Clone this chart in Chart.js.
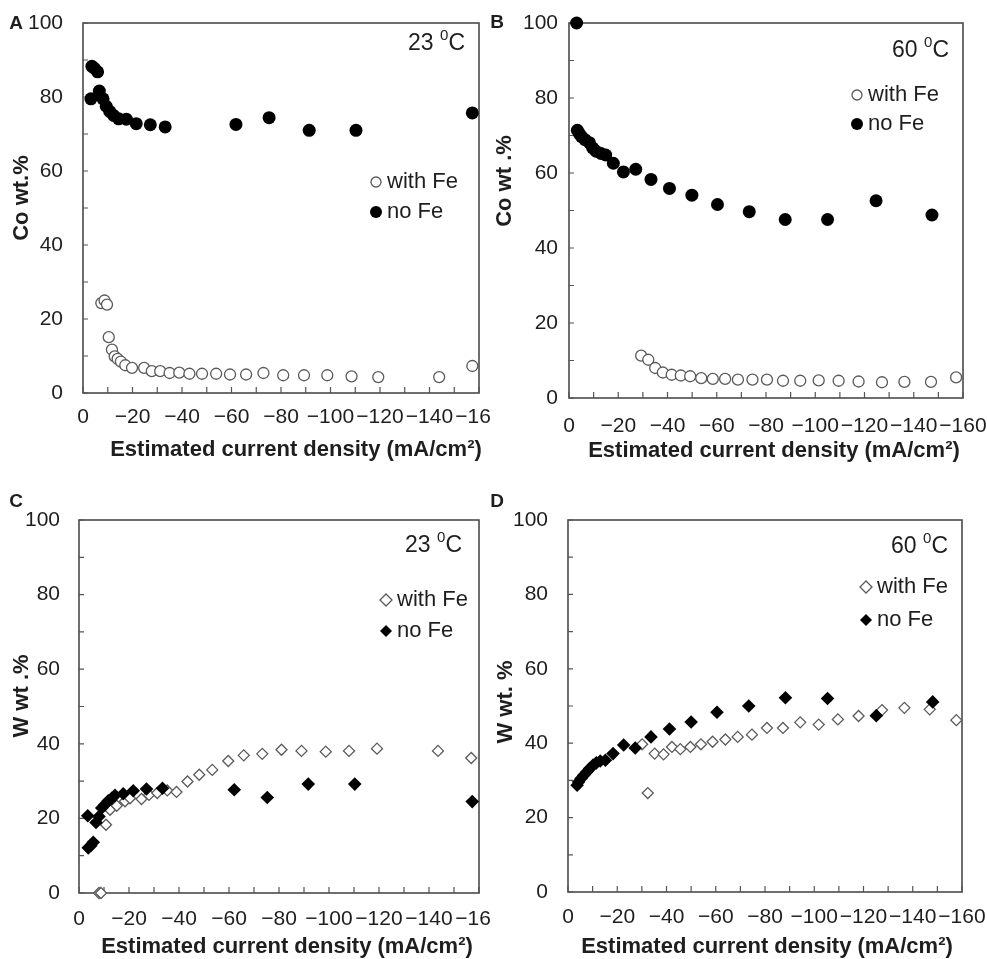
<!DOCTYPE html>
<html>
<head>
<meta charset="utf-8">
<title>Co and W content vs current density</title>
<script src="https://cdn.jsdelivr.net/npm/chart.js@4.4.1/dist/chart.umd.min.js"></script>
<style>
  body { margin: 0; background: #fff; }
  #page { position: relative; width: 987px; height: 959px; overflow: hidden; background: #fff; }
  #page canvas { position: absolute; }
</style>
</head>
<body>
<div id="page"></div>
<script>
// Co wt.% at 23 C
const coNoFe23X = [-3.2, -3.6, -4.7, -5.9, -6.6, -8.1, -9.4, -10.8, -12.4, -14.4, -17.5, -21.5, -27.2, -33.2, -61.8, -75.2, -91.4, -110.3, -157.3];
const coNoFe23Y = [79.5, 88.3, 87.7, 86.8, 81.6, 79.5, 77.5, 76.1, 75.0, 74.1, 74.0, 72.8, 72.5, 71.9, 72.6, 74.4, 71.0, 71.0, 75.7];
const coFe23X = [-7.4, -8.7, -9.7, -10.4, -11.7, -12.8, -14.0, -15.3, -17.1, -19.8, -24.7, -27.8, -31.2, -35.0, -38.9, -43.0, -48.1, -53.8, -59.4, -65.9, -72.9, -80.9, -89.3, -98.7, -108.5, -119.3, -143.9, -157.3];
const coFe23Y = [24.3, 25.0, 23.9, 15.1, 11.7, 9.9, 9.2, 8.5, 7.5, 6.8, 6.8, 5.9, 5.9, 5.4, 5.5, 5.2, 5.2, 5.2, 5.0, 5.0, 5.4, 4.8, 4.8, 4.8, 4.5, 4.3, 4.3, 7.3];

// Co wt.% at 60 C
const coNoFe60X = [-3.1, -3.4, -4.2, -5.1, -6.5, -8.3, -9.6, -11.0, -13.0, -14.9, -18.0, -22.1, -27.1, -33.3, -40.8, -49.9, -60.3, -73.2, -87.8, -105.0, -124.7, -147.4];
const coNoFe60Y = [100, 71.4, 70.5, 69.7, 68.9, 68.1, 66.7, 65.8, 65.2, 64.8, 62.6, 60.3, 61.0, 58.3, 55.9, 54.1, 51.6, 49.7, 47.6, 47.6, 52.6, 48.8];
const coFe60X = [-29.3, -32.2, -35.0, -38.1, -41.7, -45.4, -49.2, -53.7, -58.4, -63.4, -68.6, -74.5, -80.4, -86.9, -93.9, -101.4, -109.5, -117.6, -127.1, -136.2, -147.0, -157.2];
const coFe60Y = [11.3, 10.2, 8.0, 6.8, 6.2, 6.0, 5.8, 5.3, 5.1, 5.1, 4.9, 4.9, 4.9, 4.6, 4.6, 4.7, 4.6, 4.4, 4.2, 4.3, 4.3, 5.5];

// W wt.% at 23 C
const wNoFe23X = [-3.5, -3.7, -4.7, -5.7, -6.8, -8.0, -9.1, -10.4, -11.7, -13.1, -14.4, -17.7, -21.7, -27.0, -33.4, -62.1, -75.3, -91.7, -110.3, -157.3];
const wNoFe23Y = [20.7, 12.1, 12.7, 13.6, 18.9, 20.5, 22.8, 23.7, 24.7, 25.4, 26.2, 26.6, 27.4, 27.9, 28.1, 27.7, 25.6, 29.2, 29.2, 24.5];
const wFe23X = [-8.0, -8.8, -10.8, -12.4, -15.1, -18.4, -20.4, -25.0, -28.0, -31.3, -35.3, -39.0, -43.4, -48.1, -53.3, -59.7, -65.9, -73.3, -81.0, -89.0, -98.7, -108.0, -119.2, -143.6, -156.9];
const wFe23Y = [0, 0, 18.3, 22.3, 23.4, 24.6, 25.4, 25.2, 26.3, 26.8, 27.5, 27.1, 29.9, 31.7, 33.0, 35.4, 36.9, 37.3, 38.4, 38.1, 37.9, 38.1, 38.7, 38.1, 36.2];

// W wt.% at 60 C
const wNoFe60X = [-3.7, -4.3, -5.3, -6.4, -7.7, -8.8, -10.2, -11.5, -13.1, -15.2, -18.3, -22.6, -27.3, -33.7, -41.2, -50.0, -60.5, -73.4, -88.3, -105.4, -125.2, -148.1];
const wNoFe60Y = [28.7, 29.6, 30.5, 31.4, 32.3, 33.2, 34.1, 34.7, 35.2, 35.4, 37.2, 39.5, 38.7, 41.7, 43.8, 45.7, 48.3, 50.0, 52.2, 52.0, 47.4, 51.1];
const wFe60X = [-30.1, -32.4, -35.2, -38.8, -42.2, -45.6, -49.7, -54.0, -58.7, -63.9, -68.9, -74.7, -80.8, -87.3, -94.3, -101.8, -109.6, -118.0, -127.5, -136.6, -146.9, -157.7];
const wFe60Y = [39.7, 26.6, 37.2, 37.0, 39.0, 38.4, 39.0, 39.7, 40.4, 41.0, 41.7, 42.3, 44.1, 44.1, 45.6, 45.0, 46.4, 47.3, 48.9, 49.5, 49.1, 46.2];

// axes
const xMin = -160, xMax = 0, xStep = 10, xLabelEvery = 20;
const yMin = 0, yMax = 100, yStep = 10, yLabelEvery = 20;
const seriesNames = ['with Fe', 'no Fe'];

const FONT = '"Liberation Sans", Arial, sans-serif';
const INK = '#1e1e1e';
Chart.defaults.font.family = FONT;
Chart.defaults.color = INK;

// page layout of the four panels (box = canvas, area = plot frame, page coords)
const panels = [
  { letter: 'A', box: [0, 0, 490, 470], area: [83, 23, 479, 393],
    noFe: [coNoFe23X, coNoFe23Y], fe: [coFe23X, coFe23Y], marker: 'circle',
    yTitle: 'Co wt.%', temp: '23', yPad: 20, xPad: 12,
    letterPos: [16, 24], tempPos: [465, 44], legendPos: [376, 182], legendGap: 30,
    yTitlePos: [22, 198], xTitlePos: [296, 456] },
  { letter: 'B', box: [487, 0, 500, 470], area: [569, 23, 963, 398],
    noFe: [coNoFe60X, coNoFe60Y], fe: [coFe60X, coFe60Y], marker: 'circle',
    yTitle: 'Co wt .%', temp: '60', yPad: 11, xPad: 16,
    letterPos: [497, 23], tempPos: [949, 51], legendPos: [857, 95], legendGap: 29,
    yTitlePos: [505, 181], xTitlePos: [774, 457] },
  { letter: 'C', box: [0, 470, 490, 489], area: [79, 520, 479, 893],
    noFe: [wNoFe23X, wNoFe23Y], fe: [wFe23X, wFe23Y], marker: 'rectRot',
    yTitle: 'W wt .%', temp: '23', yPad: 19, xPad: 14,
    letterPos: [16, 502], tempPos: [462, 546], legendPos: [386, 600], legendGap: 31,
    yTitlePos: [22, 696], xTitlePos: [287, 953] },
  { letter: 'D', box: [487, 470, 500, 489], area: [568, 520, 962, 892],
    noFe: [wNoFe60X, wNoFe60Y], fe: [wFe60X, wFe60Y], marker: 'rectRot',
    yTitle: 'W wt. %', temp: '60', yPad: 20, xPad: 13,
    letterPos: [497, 502], tempPos: [948, 547], legendPos: [866, 587], legendGap: 33,
    yTitlePos: [506, 702], xTitlePos: [767, 953] }
];

function toPoints(xs, ys) {
  return xs.map(function(x, i) { return { x: x, y: ys[i] }; });
}

function xLabel(v) {
  if (v % xLabelEvery !== 0) return '';
  return v === 0 ? '0' : '\u2212' + Math.abs(v);
}

function marker(ctx, style, x, y, r, filled) {
  ctx.beginPath();
  if (style === 'circle') {
    ctx.arc(x, y, r, 0, Math.PI * 2);
  } else {
    ctx.moveTo(x, y - r); ctx.lineTo(x + r, y); ctx.lineTo(x, y + r); ctx.lineTo(x - r, y); ctx.closePath();
  }
  if (filled) {
    ctx.fillStyle = '#000'; ctx.fill();
  } else {
    ctx.fillStyle = '#fff'; ctx.fill();
    ctx.strokeStyle = '#5a5a5a'; ctx.lineWidth = 1.3; ctx.stroke();
  }
}

// frame, inward ticks, titles, legend and temperature tag
function decorPlugin(p) {
  const ox = p.box[0], oy = p.box[1];
  return {
    id: 'decor' + p.letter,
    beforeDatasetsDraw(chart) {
      const ctx = chart.ctx, a = chart.chartArea;
      const xs = chart.scales.x, ys = chart.scales.y;
      ctx.save();
      ctx.strokeStyle = '#4a4a4a';
      ctx.lineWidth = 1.6;
      ctx.strokeRect(a.left, a.top, a.right - a.left, a.bottom - a.top);
      ctx.lineWidth = 1.2;
      ctx.strokeStyle = '#555';
      ctx.beginPath();
      xs.ticks.forEach(function(t) {
        const px = xs.getPixelForValue(t.value);
        ctx.moveTo(px, a.bottom); ctx.lineTo(px, a.bottom - 6);
      });
      ys.ticks.forEach(function(t) {
        const py = ys.getPixelForValue(t.value);
        ctx.moveTo(a.left, py); ctx.lineTo(a.left + 5, py);
      });
      ctx.stroke();
      ctx.restore();
    },
    afterDraw(chart) {
      const ctx = chart.ctx;
      ctx.save();
      ctx.fillStyle = INK;

      // panel letter
      ctx.font = 'bold 19px ' + FONT;
      ctx.textAlign = 'center';
      ctx.textBaseline = 'middle';
      ctx.fillText(p.letter, p.letterPos[0] - ox, p.letterPos[1] - oy);

      // axis titles
      ctx.font = 'bold 22px ' + FONT;
      ctx.textBaseline = 'alphabetic';
      ctx.fillText('Estimated current density (mA/cm\u00b2)', p.xTitlePos[0] - ox, p.xTitlePos[1] - oy);
      ctx.save();
      ctx.translate(p.yTitlePos[0] - ox, p.yTitlePos[1] - oy);
      ctx.rotate(-Math.PI / 2);
      ctx.textBaseline = 'middle';
      ctx.fillText(p.yTitle, 0, 0);
      ctx.restore();

      // temperature, with raised 0
      ctx.textAlign = 'left';
      ctx.textBaseline = 'middle';
      ctx.font = '23px ' + FONT;
      const w1 = ctx.measureText(p.temp + ' ').width;
      const wC = ctx.measureText('C').width;
      ctx.font = '15px ' + FONT;
      const w0 = ctx.measureText('0').width;
      const tx = p.tempPos[0] - ox - (w1 + w0 + wC);
      const ty = p.tempPos[1] - oy;
      ctx.font = '23px ' + FONT;
      ctx.fillText(p.temp + ' ', tx, ty);
      ctx.fillText('C', tx + w1 + w0, ty);
      ctx.font = '15px ' + FONT;
      ctx.fillText('0', tx + w1, ty - 8);

      // legend
      const lx = p.legendPos[0] - ox, ly = p.legendPos[1] - oy;
      marker(ctx, p.marker, lx, ly, p.marker === 'circle' ? 5 : 6, false);
      marker(ctx, p.marker, lx, ly + p.legendGap, 6, true);
      ctx.fillStyle = INK;
      ctx.font = '22px ' + FONT;
      ctx.fillText(seriesNames[0], lx + 11, ly);
      ctx.fillText(seriesNames[1], lx + 11, ly + p.legendGap);
      ctx.restore();
    }
  };
}

const page = document.getElementById('page');

panels.forEach(function(p) {
  const canvas = document.createElement('canvas');
  canvas.width = p.box[2];
  canvas.height = p.box[3];
  canvas.style.left = p.box[0] + 'px';
  canvas.style.top = p.box[1] + 'px';
  page.appendChild(canvas);

  const isCircle = p.marker === 'circle';

  new Chart(canvas.getContext('2d'), {
    type: 'scatter',
    data: {
      datasets: [
        {
          label: seriesNames[0],
          data: toPoints(p.fe[0], p.fe[1]),
          pointStyle: p.marker,
          pointRadius: isCircle ? 5.5 : 5.5,
          backgroundColor: '#fff',
          borderColor: '#5a5a5a',
          borderWidth: 1.3,
          order: 1,
          clip: false
        },
        {
          label: seriesNames[1],
          data: toPoints(p.noFe[0], p.noFe[1]),
          pointStyle: p.marker,
          pointRadius: isCircle ? 6.5 : 6.8,
          backgroundColor: '#000',
          borderColor: '#000',
          borderWidth: 0,
          order: 0,
          clip: false
        }
      ]
    },
    options: {
      responsive: false,
      animation: false,
      layout: {
        padding: {
          left: 0,
          top: p.area[1] - p.box[1],
          right: p.box[0] + p.box[2] - p.area[2],
          bottom: 0
        }
      },
      plugins: {
        legend: { display: false },
        tooltip: { enabled: false }
      },
      scales: {
        x: {
          type: 'linear',
          min: xMin,
          max: xMax,
          reverse: true,
          grid: { display: false, drawTicks: false },
          border: { display: false },
          ticks: {
            stepSize: xStep,
            autoSkip: false,
            maxRotation: 0,
            padding: p.xPad,
            font: { size: 21 },
            color: INK,
            callback: xLabel
          },
          afterFit: function(s) {
            s.height = p.box[1] + p.box[3] - p.area[3];
            s.paddingLeft = 0;
            s.paddingRight = 0;
          }
        },
        y: {
          type: 'linear',
          min: yMin,
          max: yMax,
          grid: { display: false, drawTicks: false },
          border: { display: false },
          ticks: {
            stepSize: yStep,
            autoSkip: false,
            padding: p.yPad,
            font: { size: 21 },
            color: INK,
            callback: function(v) { return v % yLabelEvery === 0 ? String(v) : ''; }
          },
          afterFit: function(s) {
            s.width = p.area[0] - p.box[0];
            s.paddingTop = 0;
            s.paddingBottom = 0;
          }
        }
      }
    },
    plugins: [decorPlugin(p)]
  });
});
</script>
</body>
</html>
